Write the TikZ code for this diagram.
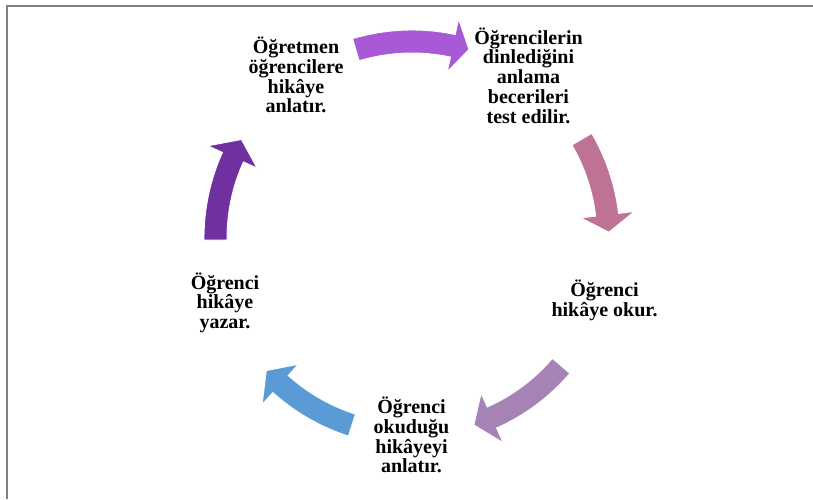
\documentclass[tikz,border=0pt]{standalone}
\usepackage{fontspec}
\setmainfont{Liberation Serif}
\definecolor{frame}{RGB}{128,128,128}
\definecolor{cA}{RGB}{168,90,214}
\definecolor{cB}{RGB}{190,115,150}
\definecolor{cC}{RGB}{165,132,181}
\definecolor{cD}{RGB}{91,155,213}
\definecolor{cE}{RGB}{112,48,160}
\tikzset{
  lbl/.style={font=\bfseries\fontsize{20}{19.7}\selectfont, align=center, inner sep=0pt},
  arrowfill/.style={fill=#1, draw=white, line width=0.9pt, line join=miter}
}
% #1 colour, #2 tail angle, #3 head base angle, #4 tip angle
\newcommand\cycarrow[4]{%
  \filldraw[arrowfill=#1] (#2:208) arc[start angle=#2, end angle=#3, radius=208]
    -- (#3:224) -- (#4:197) -- (#3:170) -- (#3:185)
    arc[start angle=#3, end angle=#2, radius=185] -- cycle;}
\begin{document}
\begin{tikzpicture}[x=1pt,y=-1pt]
\useasboundingbox (0,0) rectangle (813,499);
\fill[white] (0,0) rectangle (813,499);
\draw[frame, line width=2pt] (7,499) -- (7,6) -- (813,6);
\begin{scope}[shift={(412,238)}]
  \cycarrow{cA}{-106.6}{-78}{-73.2}
  \cycarrow{cB}{-30.2}{-6.8}{-1.7}
  \cycarrow{cC}{40.6}{66}{71.7}
  \cycarrow{cD}{107.8}{132}{137.7}
  \cycarrow{cE}{179.4}{204.3}{210}
\end{scope}
\node[lbl] (n1) at (296,75) {Öğretmen\\öğrencilere\\hikâye\\anlatır.};
\node[lbl] (n2) at (528.5,75.5) {Öğrencilerin\\dinlediğini\\anlama\\becerileri\\test edilir.};
\node[lbl] (n3) at (604.5,300) {Öğrenci\\hikâye okur.};
\node[lbl] (n4) at (411.5,435) {Öğrenci\\okuduğu\\hikâyeyi\\anlatır.};
\node[lbl] (n5) at (225,302.6) {Öğrenci\\hikâye\\yazar.};
\end{tikzpicture}
\end{document}
